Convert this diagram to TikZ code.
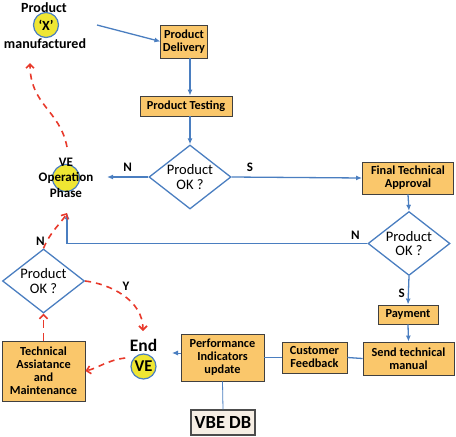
\documentclass[tikz,border=0pt]{standalone}
\usepackage{fontspec}
\setmainfont{Carlito}
\usetikzlibrary{shapes.geometric,arrows.meta,positioning}

\definecolor{boxfill}{HTML}{FAC76B}
\definecolor{flowblue}{HTML}{4A7EC0}
\definecolor{flowred}{HTML}{E8392B}
\definecolor{dotyellow}{HTML}{EFE633}
\definecolor{dbfill}{HTML}{F6EEE4}

\begin{document}
\begin{tikzpicture}[x=1pt, y=-1pt, every node/.style={inner sep=2pt},
    box/.style={draw=black!75, fill=boxfill, line width=0.9pt, align=center,
        font=\fontsize{12.3}{13}\selectfont\bfseries},
    decision/.style={diamond, draw=flowblue, line width=1.3pt, aspect=1.28,
        inner sep=-5pt, minimum width=82pt, minimum height=64pt, align=center,
        font=\fontsize{14.5}{14.5}\selectfont},
    dot/.style={circle, fill=dotyellow, draw=flowblue, line width=1.2pt, inner sep=0pt},
    lbl/.style={font=\fontsize{13}{15}\selectfont\bfseries},
    flow/.style={draw=flowblue, line width=1.3pt, -{Latex[length=6pt,width=5pt]}},
    link/.style={draw=flowblue, line width=1.3pt},
    back/.style={draw=flowred, line width=1.6pt, dash pattern=on 6pt off 5pt,
        -{Straight Barb[length=4pt,width=8pt]}} ]

    \useasboundingbox (0,0) rectangle (456,437);

    % Product X manufactured
    \node[dot, minimum size=25pt, font=\fontsize{14}{16}\selectfont\bfseries] (prodx) at (46,25) {‘X’};
    \node[lbl, font=\fontsize{14}{16}\selectfont\bfseries] (prodtop) at (44,8) {Product};
    \node[lbl, font=\fontsize{14}{16}\selectfont\bfseries] (manuf) at (45,44) {manufactured};

    % main flow
    \node[box, minimum width=46pt, minimum height=33pt] (delivery) at (184,41.5) {Product\\Delivery};
    \node[box, minimum width=92pt, minimum height=20pt] (testing) at (186,106) {Product Testing};
    \node[decision] (test1) at (190,177) {Product\\OK ?};
    \node[box, minimum width=91pt, minimum height=32pt] (final) at (408,178) {Final Technical\\Approval};
    \node[decision] (test2) at (409,243.5) {Product\\OK ?};
    \node[box, minimum width=60pt, minimum height=19pt] (payment) at (408,314.5) {Payment};
    \node[box, minimum width=91pt, minimum height=33pt] (sendman) at (408.5,358.5) {Send technical\\manual};
    \node[box, minimum width=65pt, minimum height=31pt] (feedback) at (314.5,357.5) {Customer\\Feedback};
    \node[box, minimum width=83pt, minimum height=47pt] (perf) at (222.5,357.5) {Performance\\Indicators\\update};
    \node[box, fill=dbfill, draw=black!70, line width=1.4pt, minimum width=64pt, minimum height=25pt,
        font=\fontsize{18.5}{20}\selectfont\bfseries] (vbedb) at (223,422.5) {VBE DB};

    % VE operation phase
    \node[dot, minimum size=27pt] (opdot) at (66,178) {};
    \node[lbl] (opve) at (66,162) {VE};
    \node[lbl] (opname) at (66,178) {Operation};
    \node[lbl] (opphase) at (66,193) {Phase};

    % End of VE and maintenance loop
    \node[font=\fontsize{17.5}{19}\selectfont\bfseries] (endtxt) at (143.5,345) {End};
    \node[dot, minimum size=25pt, font=\fontsize{16.5}{18}\selectfont\bfseries] (enddot) at (143.5,366.5) {VE};
    \node[decision] (test3) at (43.5,281) {Product\\OK ?};
    \node[box, minimum width=83pt, minimum height=60pt] (techbox) at (43.5,371) {Technical\\Assiatance\\and\\Maintenance};

    \coordinate (mfout) at (97,25);
    \coordinate (opright) at (107,177);
    \coordinate (opin) at (67,213);
    \coordinate (opout) at (67,147);
    \coordinate (mfin) at (30,63);
    \coordinate (endin) at (172,353);
    \coordinate (endtop) at (143,331);

    % blue connectors
    \draw[flow] (mfout) -- (delivery.west);
    \draw[flow] (delivery.south -| test1.north) -- (testing.north -| test1.north);
    \draw[flow] (testing.south -| test1.north) -- (test1.north);
    \draw[flow] (test1.west) -- (opright) node[lbl, midway, above=3pt] {N};
    \draw[flow] (test1.east) -- (final.west) node[lbl, pos=0.14, above=3pt] {S};
    \draw[flow] (final.south) -- (test2.north);
    \draw[flow] (test2.west) -| (opin) node[lbl, pos=0.02, above=1pt] {N};
    \draw[flow] (test2.south) -- (payment.north) node[lbl, pos=0.62, left=1pt] {S};
    \draw[flow] (payment.south) -- (sendman.north);
    \draw[link] (sendman.west) -- (feedback.east);
    \draw[link] (feedback.west) -- (perf.east);
    \draw[flow, line width=1pt] (perf.west |- endin) -- (endin);
    \draw[link, line width=0.8pt] (perf.south) -- (vbedb.north);

    % red dashed loop
    \draw[back] (opout) .. controls (60,110) and (30,105) .. (mfin);
    \draw[back] (test3.north) .. controls (50,232) and (62,222) .. (opin)
        node[lbl, pos=0, above left=0pt and -4pt] {N};
    \draw[back] (test3.east) .. controls (110,284) and (143,300) .. (endtop)
        node[lbl, pos=0.45, above right=0pt] {Y};
    \draw[back] (enddot.160) ++(-6,-4) .. controls (108,360) and (98,368) .. (techbox.east);
    \draw[back, dash pattern=on 8pt off 5pt] (techbox.north) -- (test3.south);

\end{tikzpicture}
\end{document}
